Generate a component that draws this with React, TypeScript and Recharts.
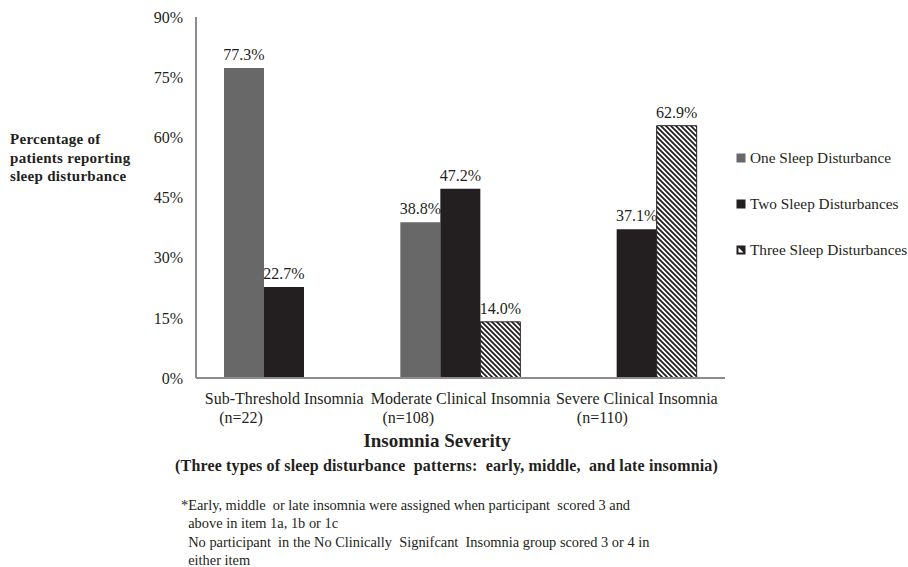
import React from 'react';
import { BarChart, Bar, XAxis, YAxis, LabelList } from 'recharts';

const categories = ['Sub-Threshold Insomnia', 'Moderate Clinical Insomnia', 'Severe Clinical Insomnia'];
const sampleSizes = ['(n=22)', '(n=108)', '(n=110)'];
const oneDisturbance = [77.3, 38.8, null];
const twoDisturbances = [22.7, 47.2, 37.1];
const threeDisturbances = [null, 14.0, 62.9];
const yTicks = [0, 15, 30, 45, 60, 75, 90];
const seriesNames = ['One Sleep Disturbance', 'Two Sleep Disturbances', 'Three Sleep Disturbances'];
const notes = [
  '*Early, middle  or late insomnia were assigned when participant  scored 3 and',
  '  above in item 1a, 1b or 1c',
  '  No participant  in the No Clinically  Signifcant  Insomnia group scored 3 or 4 in',
  '  either item',
];

const data = categories.map((name, i) => ({
  name,
  n: sampleSizes[i],
  one: oneDisturbance[i],
  two: twoDisturbances[i],
  three: threeDisturbances[i],
}));

// where the "(n=..)" line starts, relative to the category centre
const nOffsets = [-65, -78, -60];

const FONT = '"Liberation Serif", "Times New Roman", serif';
const GRAY = '#686868';
const BLACK = '#231f20';
const AXIS = '#8c8c8c';

const fmt = (v: any) => (v == null ? '' : `${Number(v).toFixed(1)}%`);

const CategoryTick = (props: any) => {
  const { x, y, payload, index } = props;
  return (
    <g>
      <text x={x} y={y + 26} textAnchor="middle" fontSize={16} fill="#231f20" fontFamily={FONT}>
        {payload.value}
      </text>
      <text x={x + nOffsets[index]} y={y + 45} textAnchor="start" fontSize={16} fill="#231f20" fontFamily={FONT}>
        {sampleSizes[index]}
      </text>
    </g>
  );
};

const LegendIcon = ({ kind }: { kind: number }) => (
  <svg width={10} height={10} style={{ marginRight: 4 }}>
    {kind === 0 && <rect x={0.5} y={0.5} width={9} height={9} fill={GRAY} />}
    {kind === 1 && <rect x={0.5} y={0.5} width={9} height={9} fill={BLACK} />}
    {kind === 2 && (
      <g>
        <rect x={0.5} y={0.5} width={9} height={9} fill={BLACK} />
        <path d="M2.5,2.5 L7.5,7.5 L2.5,7.5 Z" fill="#fff" />
      </g>
    )}
  </svg>
);

const App: React.FC = () => {
  return (
    <div style={{ position: 'absolute', left: 0, top: 0, width: 908, height: 567, background: '#fff', fontFamily: FONT, color: '#231f20' }}>
      <BarChart
        width={908}
        height={567}
        data={data}
        margin={{ top: 17, right: 183, left: 136, bottom: 139 }}
        barGap={0}
      >
        <defs>
          <pattern id="hatch" patternUnits="userSpaceOnUse" width={5} height={5}>
            <rect width={5} height={5} fill="#fff" />
            <path d="M-1,-1 L6,6 M-1,4 L1,6 M4,-1 L6,1" stroke={BLACK} strokeWidth={1.8} />
          </pattern>
        </defs>
        <XAxis
          dataKey="name"
          height={50}
          axisLine={{ stroke: AXIS, strokeWidth: 2 }}
          tickLine={false}
          tickSize={0}
          tickMargin={0}
          tick={<CategoryTick />}
          interval={0}
        />
        <YAxis
          width={60}
          domain={[0, 90]}
          ticks={yTicks}
          interval={0}
          axisLine={{ stroke: AXIS, strokeWidth: 2 }}
          tickLine={false}
          tickSize={6}
          tickMargin={7}
          tickFormatter={(v: number) => `${v}%`}
          tick={{ fontSize: 16, fill: '#231f20', fontFamily: FONT }}
        />
        <Bar dataKey="one" name={seriesNames[0]} fill={GRAY} barSize={40} isAnimationActive={false}>
          <LabelList dataKey="one" position="top" offset={8} formatter={fmt} style={{ fontSize: 16, fill: '#231f20', fontFamily: FONT }} />
        </Bar>
        <Bar dataKey="two" name={seriesNames[1]} fill={BLACK} barSize={40} isAnimationActive={false}>
          <LabelList dataKey="two" position="top" offset={8} formatter={fmt} style={{ fontSize: 16, fill: '#231f20', fontFamily: FONT }} />
        </Bar>
        <Bar dataKey="three" name={seriesNames[2]} fill="url(#hatch)" stroke={BLACK} strokeWidth={1} barSize={40} isAnimationActive={false}>
          <LabelList dataKey="three" position="top" offset={8} formatter={fmt} style={{ fontSize: 16, fill: '#231f20', fontFamily: FONT }} />
        </Bar>
      </BarChart>

      {/* y-axis title */}
      <div style={{ position: 'absolute', left: 10, top: 130, fontSize: 15, fontWeight: 'bold', lineHeight: '18.5px', letterSpacing: 0.3 }}>
        Percentage of<br />patients reporting<br />sleep disturbance
      </div>

      {/* legend */}
      <div style={{ position: 'absolute', left: 736, top: 148, fontSize: 15.3 }}>
        {seriesNames.map((s, i) => (
          <div key={s} style={{ display: 'flex', alignItems: 'center', height: 20, marginBottom: 26, whiteSpace: 'nowrap' }}>
            <LegendIcon kind={i} />
            <span>{s}</span>
          </div>
        ))}
      </div>

      {/* x-axis titles */}
      <div style={{ position: 'absolute', left: 0, width: 874, top: 430, textAlign: 'center', fontSize: 19, fontWeight: 'bold' }}>
        Insomnia Severity
      </div>
      <div style={{ position: 'absolute', left: 0, width: 893, top: 457, textAlign: 'center', fontSize: 16, fontWeight: 'bold', whiteSpace: 'pre', letterSpacing: 0.15 }}>
        (Three types of sleep disturbance  patterns:  early, middle,  and late insomnia)
      </div>

      {/* notes */}
      <div style={{ position: 'absolute', left: 181, top: 496, fontSize: 14.4, lineHeight: '18.3px', whiteSpace: 'pre' }}>
        {notes.map((t, i) => (
          <div key={i}>{t}</div>
        ))}
      </div>
    </div>
  );
};

export default App;
